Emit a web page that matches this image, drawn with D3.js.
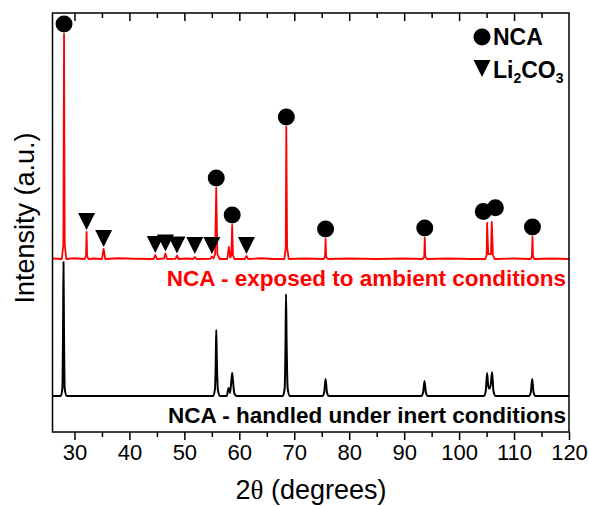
<!DOCTYPE html>
<html>
<head>
<meta charset="utf-8">
<script src="https://cdn.jsdelivr.net/npm/d3@7/dist/d3.min.js"></script>
<style>
  html, body { margin: 0; padding: 0; background: #fff; }
  svg { display: block; }
  text { font-family: "Liberation Sans", Arial, sans-serif; }
</style>
</head>
<body>
<svg id="chart" width="589" height="506"></svg>
<script>
// XRD patterns: [2θ (degrees), intensity (a.u.)] vertices of each trace
const ambientPattern = [
  [26, 2], [27.7, 0], [27.98, 60], [28.1, 900], [28.22, 60], [28.5, 0],
  [30, 3], [31.85, 0], [32.1, 12], [32.2, 108], [32.3, 12], [32.55, 0],
  [33.5, 2], [35.0, 0], [35.3, 40], [35.6, 0],
  [38, 3], [41, 1], [44.4, 0], [44.7, 16], [45.0, 0],
  [46.3, 2], [46.55, 22], [46.85, 0], [48.4, 1], [48.65, 14], [48.95, 0],
  [50.5, 2], [51.6, 0], [51.9, 8], [52.2, 0],
  [54.7, 1], [55.0, 10], [55.3, 2], [55.6, 20], [55.8, 284], [56.0, 20], [56.4, 0],
  [57.8, 0], [58.1, 48], [58.35, 6], [58.55, 14], [58.7, 136], [58.85, 14], [59.1, 0],
  [61.0, 0], [61.3, 12], [61.6, 0], [64, 3], [66, 0],
  [68.2, 0], [68.45, 45], [68.55, 528], [68.7, 45], [69.0, 0],
  [72, 2], [75.35, 0], [75.6, 9], [75.7, 80], [75.8, 9], [76.1, 0],
  [80, 2], [85, 0], [90, 2],
  [93.4, 0], [93.65, 9], [93.75, 84], [93.85, 9], [94.15, 0],
  [98, 2], [102, 0],
  [104.75, 0], [105.0, 15], [105.1, 144], [105.3, 20], [105.55, 20], [105.8, 20],
  [105.95, 148], [106.15, 15], [106.45, 0],
  [110, 2], [113.0, 0], [113.25, 10], [113.35, 88], [113.45, 10], [113.7, 0],
  [117, 2], [120, 0]
];

const inertPattern = [
  [26, 0], [27.5, 0], [27.8, 30], [27.93, 300], [28.0, 536], [28.08, 300], [28.22, 30], [28.6, 0],
  [55.2, 0], [55.55, 25], [55.72, 150], [55.8, 264], [55.9, 150], [56.1, 25], [56.5, 0],
  [57.7, 0], [58.05, 32], [58.3, 12], [58.55, 60], [58.7, 92], [58.85, 60], [59.1, 10], [59.5, 0],
  [67.9, 0], [68.25, 30], [68.42, 230], [68.5, 408], [68.6, 230], [68.8, 30], [69.2, 0],
  [75.1, 0], [75.45, 15], [75.7, 68], [75.95, 15], [76.3, 0],
  [93.1, 0], [93.45, 14], [93.7, 60], [93.95, 14], [94.3, 0],
  [104.5, 0], [104.85, 20], [105.1, 92], [105.3, 40], [105.5, 30], [105.75, 45],
  [106.0, 96], [106.25, 20], [106.65, 0],
  [112.7, 0], [113.05, 15], [113.3, 68], [113.55, 15], [113.9, 0],
  [120, 0]
];

// Phase markers on the ambient trace: symbol position and the level it sits on
const ncaPos   = [28.1, 55.8, 58.7, 68.55, 75.7, 93.75, 104.4, 106.6, 113.35];
const ncaLevel = [900, 284, 136, 528, 80, 84, 150, 165, 88];
const li2co3Pos   = [32.2, 35.3, 44.7, 46.55, 48.65, 51.9, 55.0, 61.3];
const li2co3Level = [108, 40, 16, 22, 14, 12, 12, 12];

const xTicks = [30, 40, 50, 60, 70, 80, 90, 100, 110, 120];
const xMinorTicks = [35, 45, 55, 65, 75, 85, 95, 105, 115];

const ambientLabel = "NCA - exposed to ambient conditions";
const inertLabel = "NCA - handled under inert conditions";
const ambientOffset = 548;   // vertical stacking of the ambient trace

const svg = d3.select("#chart");
const plotL = 52.5, plotR = 569, plotT = 13, plotB = 432;

const x = d3.scaleLinear().domain([26, 120]).range([plotL, plotR]);
const y = d3.scaleLinear().domain([-144, 1532]).range([plotB, plotT]);

// traces
const line = d3.line().x(d => x(d[0])).y(d => y(d[1]));
const lineAmb = d3.line().x(d => x(d[0])).y(d => y(d[1] + ambientOffset));

svg.append("path").datum(inertPattern)
  .attr("d", line.curve(d3.curveMonotoneX))
  .attr("fill", "none").attr("stroke", "#000").attr("stroke-width", 2)
  .attr("stroke-linejoin", "round");

svg.append("path").datum(ambientPattern)
  .attr("d", lineAmb)
  .attr("fill", "none").attr("stroke", "#ff0000").attr("stroke-width", 1.8)
  .attr("stroke-linejoin", "round");

// NCA circles
svg.append("g").selectAll("circle").data(ncaPos).join("circle")
  .attr("cx", d => x(d))
  .attr("cy", (d, i) => y(ncaLevel[i] + ambientOffset) - 10)
  .attr("r", 8.5).attr("fill", "#000");

// Li2CO3 down-pointing triangles, tip just above the peak
const tri = (cx, tip) => `M${cx - 8.5},${tip - 17}L${cx + 8.5},${tip - 17}L${cx},${tip}Z`;
svg.append("g").selectAll("path").data(li2co3Pos).join("path")
  .attr("d", (d, i) => tri(x(d), y(li2co3Level[i] + ambientOffset) - 2))
  .attr("fill", "#000");

// frame
svg.append("rect")
  .attr("x", plotL).attr("y", plotT)
  .attr("width", plotR - plotL).attr("height", plotB - plotT)
  .attr("fill", "none").attr("stroke", "#000").attr("stroke-width", 1.5);

// bottom axis, ticks outward
const gx = svg.append("g").attr("transform", `translate(0,${plotB})`)
  .call(d3.axisBottom(x).tickValues(xTicks).tickSize(8).tickPadding(4).tickFormat(d3.format("d")));
gx.select(".domain").remove();
gx.selectAll("line").attr("stroke-width", 1.5);
gx.selectAll("text").attr("font-size", 22).attr("fill", "#000")
  .style("font-family", '"Liberation Sans", Arial, sans-serif');

const gxm = svg.append("g").attr("transform", `translate(0,${plotB})`)
  .call(d3.axisBottom(x).tickValues(xMinorTicks).tickSize(5).tickFormat(""));
gxm.select(".domain").remove();
gxm.selectAll("line").attr("stroke-width", 1.5);

// top axis, ticks inward
const gt = svg.append("g").attr("transform", `translate(0,${plotT})`)
  .call(d3.axisTop(x).tickValues(xTicks.slice(0, -1)).tickSize(-8).tickFormat(""));
gt.select(".domain").remove();
gt.selectAll("line").attr("stroke-width", 1.5);
const gtm = svg.append("g").attr("transform", `translate(0,${plotT})`)
  .call(d3.axisTop(x).tickValues(xMinorTicks).tickSize(-5).tickFormat(""));
gtm.select(".domain").remove();
gtm.selectAll("line").attr("stroke-width", 1.5);

// trace labels
svg.append("text").attr("x", 566).attr("y", 286)
  .attr("text-anchor", "end").attr("font-size", 22.5).attr("font-weight", "bold")
  .attr("fill", "#ff0000").text(ambientLabel);
svg.append("text").attr("x", 566).attr("y", 423)
  .attr("text-anchor", "end").attr("font-size", 22.5).attr("font-weight", "bold")
  .attr("fill", "#000").text(inertLabel);

// legend
svg.append("circle").attr("cx", 482).attr("cy", 37).attr("r", 8.5).attr("fill", "#000");
svg.append("text").attr("x", 493).attr("y", 45)
  .attr("font-size", 23).attr("font-weight", "bold").text("NCA");
svg.append("path").attr("d", tri(482, 77)).attr("fill", "#000");
const li = svg.append("text").attr("x", 493).attr("y", 78)
  .attr("font-size", 23).attr("font-weight", "bold");
li.append("tspan").text("Li");
li.append("tspan").attr("font-size", 14).attr("dy", 5).text("2");
li.append("tspan").attr("dy", -5).text("CO");
li.append("tspan").attr("font-size", 14).attr("dy", 5).text("3");

// axis titles
svg.append("text")
  .attr("transform", "translate(34,218) rotate(-90)")
  .attr("text-anchor", "middle").attr("font-size", 27).text("Intensity (a.u.)");
const xt = svg.append("text").attr("x", 311).attr("y", 499)
  .attr("text-anchor", "middle").attr("font-size", 27);
xt.append("tspan").text("2");
xt.append("tspan").style("font-family", '"Liberation Serif", "Times New Roman", serif').text("θ");
xt.append("tspan").text(" (degrees)");
</script>
</body>
</html>
